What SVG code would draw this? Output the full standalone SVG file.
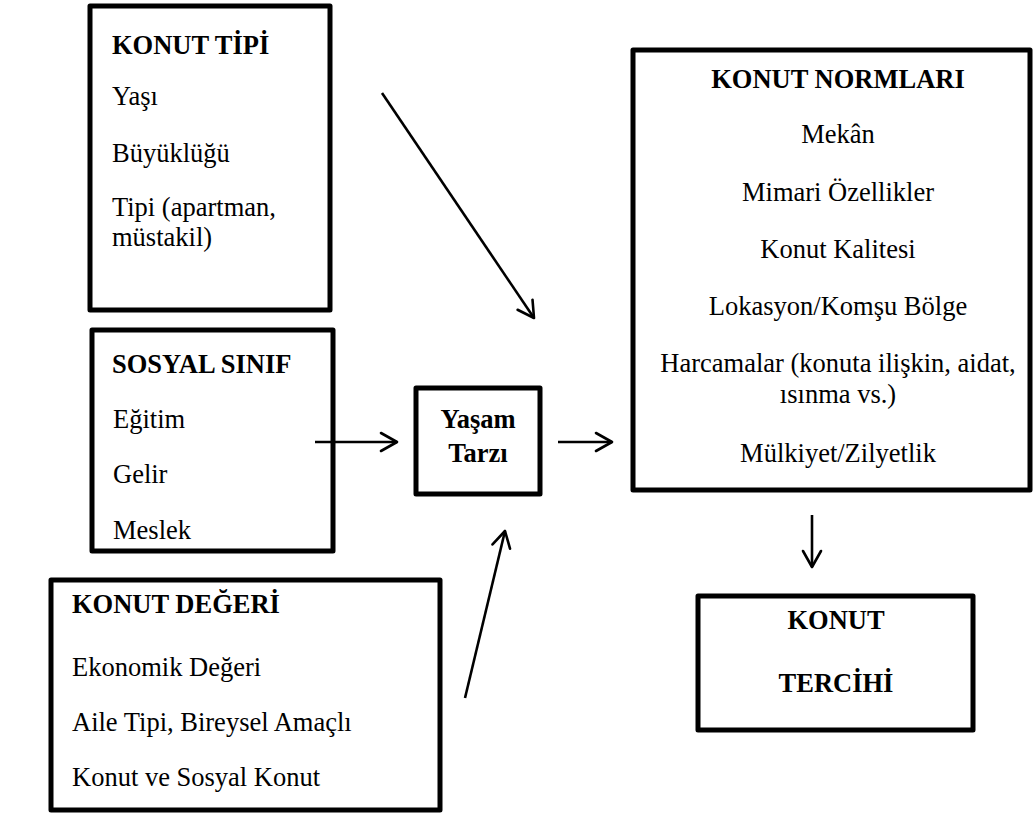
<svg xmlns="http://www.w3.org/2000/svg" width="1035" height="814" viewBox="0 0 1035 814">
  <style>
    .box { fill: none; stroke: #000; stroke-width: 5; stroke-linejoin: round; }
    .t { font-family: "Liberation Serif", "Times New Roman", serif; font-size: 26.5px; fill: #000; }
    .b { font-weight: bold; }
    .c { text-anchor: middle; }
    .wire { fill: none; stroke: #000; stroke-width: 2.6; }
  </style>
  <defs>
    <marker id="open" viewBox="0 0 22 22" refX="20" refY="11" markerWidth="22" markerHeight="22" markerUnits="userSpaceOnUse" orient="auto">
      <path d="M4,2 L20,11 L4,20" fill="none" stroke="#000" stroke-width="2.6" stroke-linecap="round" stroke-linejoin="round"/>
    </marker>
  </defs>
  <rect width="1035" height="814" fill="#fff"/>

  <g id="konut-tipi">
    <rect class="box" x="90" y="6" width="240" height="304"/>
    <text class="t b" x="112" y="54">KONUT TİPİ</text>
    <text class="t" x="112" y="105">Yaşı</text>
    <text class="t" x="112" y="162">Büyüklüğü</text>
    <text class="t" x="112" y="216">Tipi (apartman,</text>
    <text class="t" x="112" y="246">müstakil)</text>
  </g>

  <g id="sosyal-sinif">
    <rect class="box" x="92" y="330" width="241" height="221"/>
    <text class="t b" x="112" y="373">SOSYAL SINIF</text>
    <text class="t" x="113" y="428">Eğitim</text>
    <text class="t" x="113" y="483">Gelir</text>
    <text class="t" x="113" y="539">Meslek</text>
  </g>

  <g id="konut-degeri">
    <rect class="box" x="51" y="580" width="389" height="230"/>
    <text class="t b" x="72" y="613">KONUT DEĞERİ</text>
    <text class="t" x="72" y="676">Ekonomik Değeri</text>
    <text class="t" x="72" y="731">Aile Tipi, Bireysel Amaçlı</text>
    <text class="t" x="72" y="786">Konut ve Sosyal Konut</text>
  </g>

  <g id="yasam-tarzi">
    <rect class="box" x="416" y="388" width="124" height="106"/>
    <text class="t b c" x="478" y="428">Yaşam</text>
    <text class="t b c" x="478" y="462">Tarzı</text>
  </g>

  <g id="konut-normlari">
    <rect class="box" x="633" y="50" width="397" height="440"/>
    <text class="t b c" x="838" y="88">KONUT NORMLARI</text>
    <text class="t c" x="838" y="143">Mekân</text>
    <text class="t c" x="838" y="201">Mimari Özellikler</text>
    <text class="t c" x="838" y="258">Konut Kalitesi</text>
    <text class="t c" x="838" y="315">Lokasyon/Komşu Bölge</text>
    <text class="t c" x="838" y="372">Harcamalar (konuta ilişkin, aidat,</text>
    <text class="t c" x="838" y="403">ısınma vs.)</text>
    <text class="t c" x="838" y="462">Mülkiyet/Zilyetlik</text>
  </g>

  <g id="konut-tercihi">
    <rect class="box" x="698" y="596" width="275" height="134"/>
    <text class="t b c" x="836" y="629">KONUT</text>
    <text class="t b c" x="836" y="692">TERCİHİ</text>
  </g>

  <g id="connectors">
    <line class="wire" x1="382" y1="93" x2="534" y2="318" marker-end="url(#open)"/>
    <line class="wire" x1="315" y1="442" x2="397" y2="442" marker-end="url(#open)"/>
    <line class="wire" x1="558" y1="442" x2="612" y2="442" marker-end="url(#open)"/>
    <line class="wire" x1="465" y1="698" x2="505" y2="531" marker-end="url(#open)"/>
    <line class="wire" x1="812" y1="515" x2="812" y2="567" marker-end="url(#open)"/>
  </g>
</svg>
